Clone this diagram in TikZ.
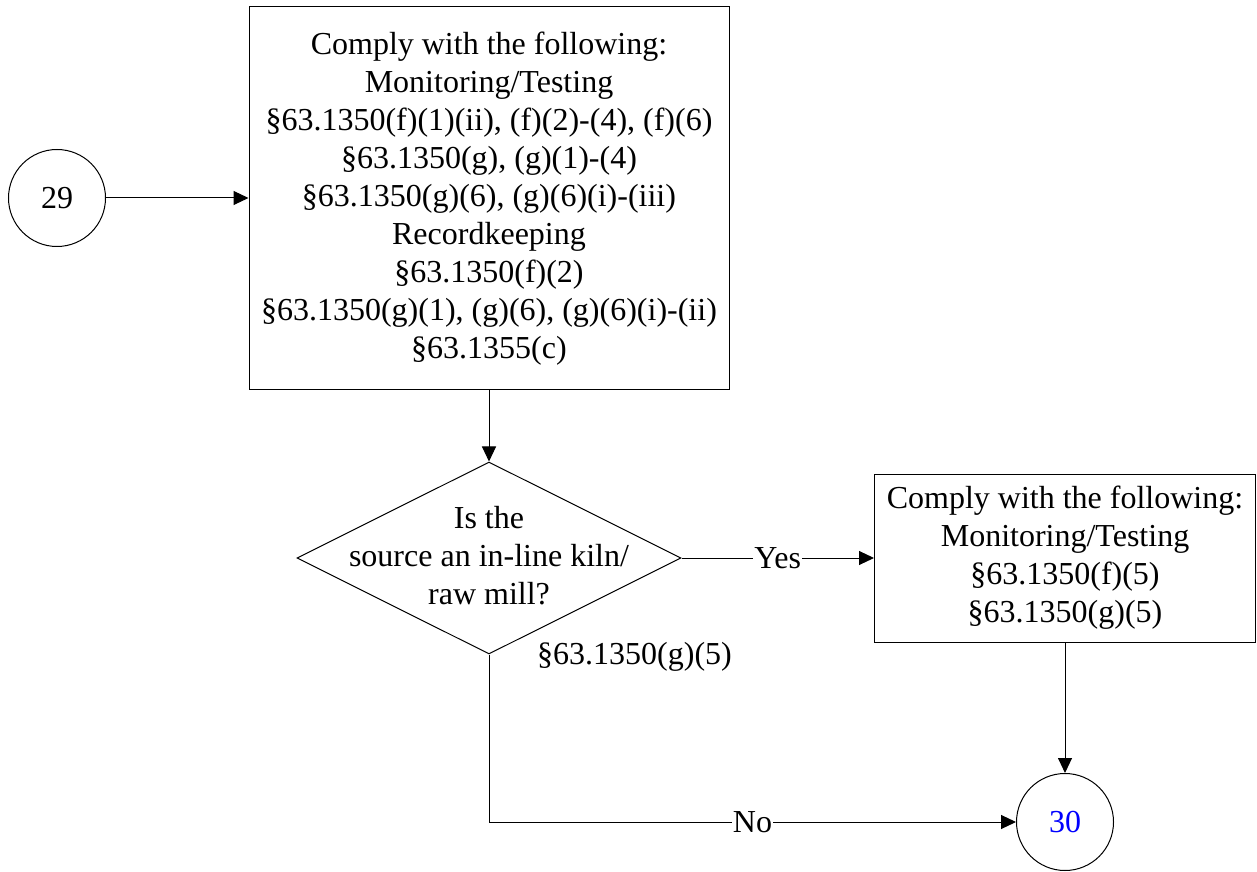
\documentclass[tikz,border=0pt]{standalone}
\usepackage{fontspec}
\setmainfont{Liberation Serif}
\usetikzlibrary{shapes.geometric,arrows.meta}
\tikzset{
  base/.style={font=\fontsize{32}{38}\selectfont, text=black},
  boxnode/.style={base, draw=black, line width=1pt, rectangle, align=center, inner sep=0pt},
  circnode/.style={base, draw=black, line width=1pt, circle, minimum size=97pt, inner sep=0pt},
  diamnode/.style={draw=black, line width=1pt, diamond, minimum width=384pt, minimum height=192pt, inner sep=0pt},
  txt/.style={base, align=center, inner sep=0pt},
  lbl/.style={base, fill=white, inner sep=1pt},
  arr/.style={draw=black, line width=1pt, -{Triangle[length=15pt,width=14pt]}},
}
\begin{document}
\begin{tikzpicture}[x=1pt,y=1pt]
\useasboundingbox (0,0) rectangle (1257,871);
\node[circnode] (c29) at (57,673) {29};
\node[boxnode, minimum width=480pt, minimum height=383pt] (b1) at (489,672.5) {Comply with the following:\\Monitoring/Testing\\§63.1350(f)(1)(ii), (f)(2)-(4), (f)(6)\\§63.1350(g), (g)(1)-(4)\\§63.1350(g)(6), (g)(6)(i)-(iii)\\Recordkeeping\\§63.1350(f)(2)\\§63.1350(g)(1), (g)(6), (g)(6)(i)-(ii)\\§63.1355(c)};
\node[diamnode] (d) at (489,313) {};
\node[txt] (dt) at (489,315) {Is the\\source an in-line kiln/\\raw mill?};
\node[boxnode, minimum width=381pt, minimum height=168pt] (b2) at (1065,313) {Comply with the following:\\Monitoring/Testing\\§63.1350(f)(5)\\§63.1350(g)(5)};
\node[circnode, text=blue] (c30) at (1065,49) {30};
\node[base, anchor=base west, inner sep=0pt] (lg) at (537,207) {§63.1350(g)(5)};
\draw[arr] (c29.east) -- (c29.east -| b1.west);
\draw[arr] (b1.south) -- (d.north);
\draw[arr] (d.east) -- node[lbl] (yes) {Yes} (b2.west);
\draw[arr] (b2.south) -- (c30.north);
\draw[arr] (d.south) |- node[lbl, pos=0.75] (no) {No} (c30.west);
\end{tikzpicture}
\end{document}
